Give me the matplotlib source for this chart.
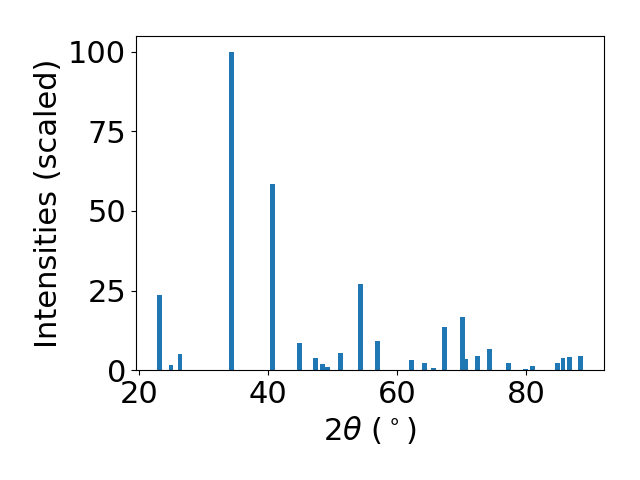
import matplotlib
matplotlib.use('Agg')
import matplotlib.pyplot as plt

# peak positions (2theta, deg) and scaled intensities
two_theta = [23.25, 25.0, 26.4, 34.4, 40.7, 44.9, 47.4, 48.4, 49.25, 51.25,
             54.35, 56.97, 62.2, 64.2, 65.6, 67.4, 70.2, 70.6, 72.4, 74.3,
             77.2, 79.9, 81.0, 84.8, 85.7, 86.7, 88.4]
intensities = [23.5, 1.5, 5.0, 100.0, 58.5, 8.5, 3.8, 1.9, 0.9, 5.3,
               27.0, 9.1, 3.1, 2.2, 0.6, 13.5, 16.6, 3.5, 4.4, 6.6,
               2.2, 0.3, 1.2, 2.2, 3.7, 4.0, 4.4]

plt.rcParams['font.size'] = 22

fig, ax = plt.subplots(figsize=(6.4, 4.8), dpi=100)
ax.bar(two_theta, intensities, width=0.75)
ax.set_xlabel(r'$2\theta$ ($^\circ$)')
ax.set_ylabel('Intensities (scaled)')
ax.set_xticks([20, 40, 60, 80])
ax.set_yticks([0, 25, 50, 75, 100])
fig.subplots_adjust(left=0.2125, right=0.944, top=0.925, bottom=0.229)
fig.savefig('out.png')
